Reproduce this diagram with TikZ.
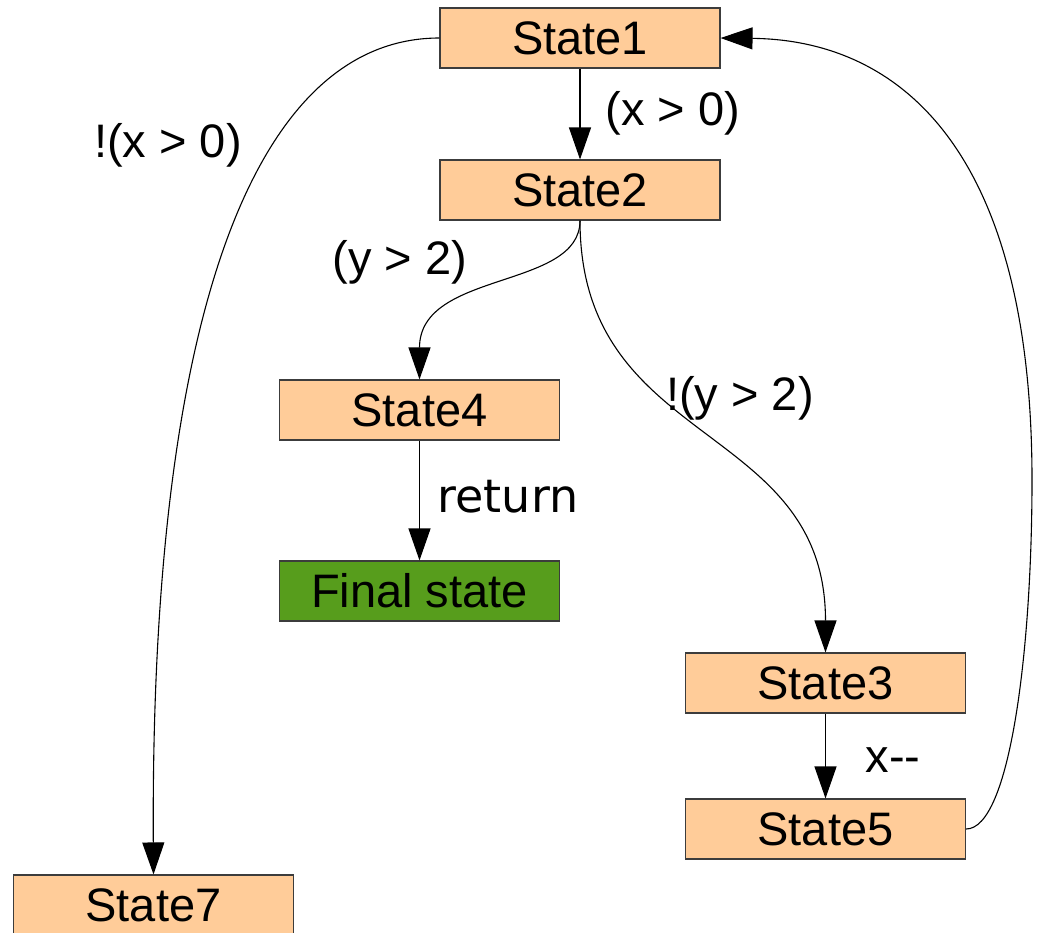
\documentclass[tikz,border=0pt]{standalone}
\usepackage{fontspec}
\setmainfont{Liberation Sans}
\newfontfamily\djv{DejaVu Sans}
\usetikzlibrary{arrows.meta}
\definecolor{peach}{HTML}{FFCC99}
\definecolor{fgreen}{HTML}{579D1C}
\definecolor{bord}{HTML}{3C3C3C}
\begin{document}
\begin{tikzpicture}[x=1pt,y=-1pt,
  every node/.style={font=\fontsize{47pt}{56pt}\selectfont},
  statebox/.style={draw=bord,line width=1.1pt,fill=peach,minimum width=280pt,minimum height=60pt,inner sep=0pt,anchor=center},
  finalbox/.style={statebox,fill=fgreen},
  lbl/.style={inner sep=0pt,anchor=center},
  conn/.style={draw=black,line width=1.1pt,-{Triangle[length=32pt,width=22pt]}}]
\useasboundingbox (0,0) rectangle (1049,932);
\node[statebox] (s1) at (580,38) {State1};
\node[statebox] (s2) at (580,190) {State2};
\node[statebox] (s4) at (419.5,410) {State4};
\node[finalbox] (fin) at (419.5,591) {Final state};
\node[statebox] (s3) at (825.5,683) {State3};
\node[statebox] (s5) at (825.5,829) {State5};
\node[statebox] (s7) at (153.5,905) {State7};

\draw[conn] (s1) -- (s2);
\draw[conn] (s4) -- (fin);
\draw[conn] (s3) -- (s5);
\draw[conn] (s1.west) .. controls (260,38) and (150,300) .. (s7.north);
\draw[conn] (s2.south) .. controls (580,290) and (419.5,270) .. (s4.north);
\draw[conn] (s2.south) .. controls (580,450) and (825.5,420) .. (s3.north);
\draw[conn] (s5.east) .. controls (1010,829) and (1032,650) .. (1032,480)
  .. controls (1032,150) and (900,40) .. (s1.east);

\node[lbl] (l1) at (673,113) {(x > 0)};
\node[lbl] (l2) at (168,145) {!(x > 0)};
\node[lbl] (l3) at (400,262) {(y > 2)};
\node[lbl] (l4) at (740,398) {!(y > 2)};
\node[lbl,font=\fontsize{46pt}{55pt}\djv] (l5) at (508,497) {return};
\node[lbl] (l6) at (893,760) {x{-}{-}};
\end{tikzpicture}
\end{document}
